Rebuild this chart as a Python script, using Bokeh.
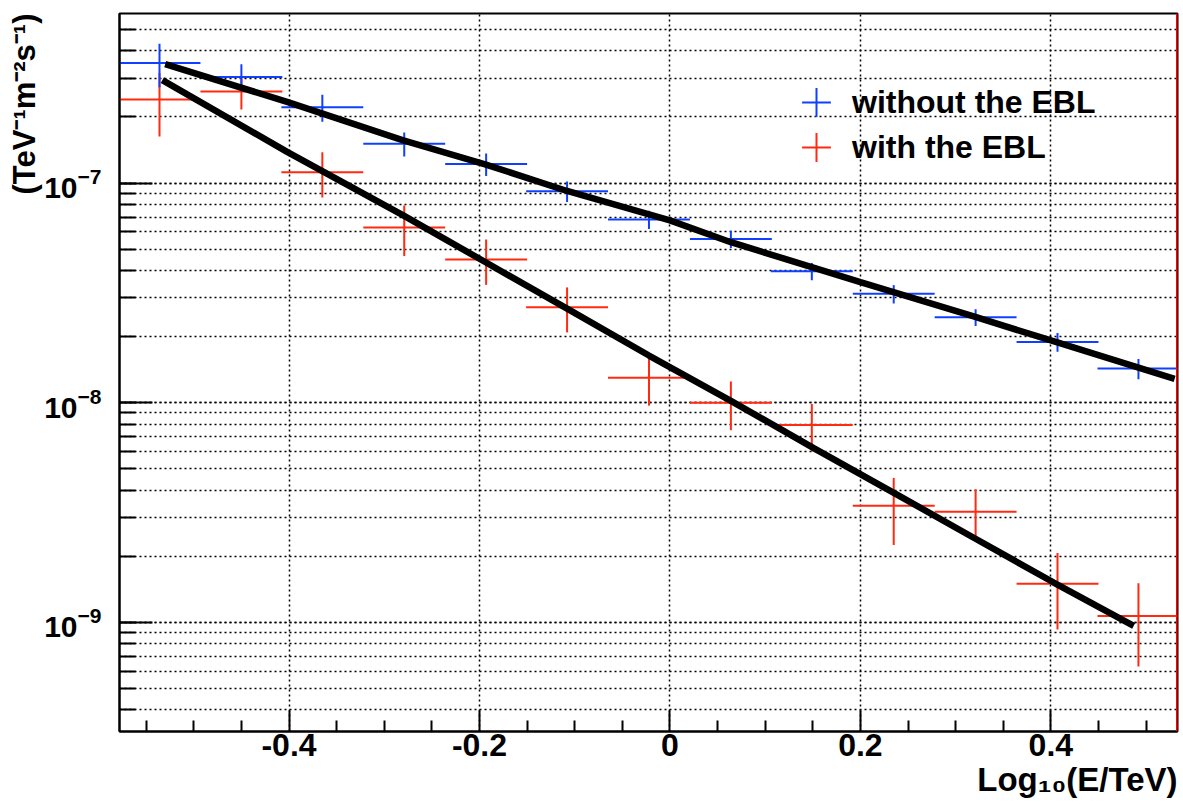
from bokeh.plotting import figure
from bokeh.models import (ColumnDataSource, Range1d, FixedTicker, LogTicker,
                          Legend, LegendItem, Title, Span)
from bokeh.embed import file_html
from bokeh.resources import INLINE

# ---------------- data ----------------
# bin centres in log10(E/TeV) and half bin width
log_e = [-0.536, -0.450, -0.365, -0.279, -0.193, -0.108, -0.022,
         0.064, 0.149, 0.235, 0.321, 0.407, 0.492]
log_e_half = [0.043, 0.043, 0.043, 0.043, 0.043, 0.043, 0.043,
              0.043, 0.043, 0.043, 0.043, 0.043, 0.043]

# "without the EBL" (blue)
flux_no_ebl = [3.52e-7, 3.04e-7, 2.21e-7, 1.51e-7, 1.22e-7, 9.17e-8, 6.83e-8,
               5.56e-8, 3.97e-8, 3.13e-8, 2.45e-8, 1.89e-8, 1.43e-8]
err_no_ebl = [0.79e-7, 0.43e-7, 0.31e-7, 0.19e-7, 0.144e-7, 0.98e-8, 0.65e-8,
              0.50e-8, 0.36e-8, 0.30e-8, 0.215e-8, 0.185e-8, 0.15e-8]

# "with the EBL" (red)
flux_ebl = [2.40e-7, 2.61e-7, 1.12e-7, 6.28e-8, 4.49e-8, 2.72e-8, 1.30e-8,
            1.00e-8, 7.93e-9, 3.40e-9, 3.19e-9, 1.50e-9, 1.07e-9]
err_ebl = [0.77e-7, 0.45e-7, 0.26e-7, 1.63e-8, 1.05e-8, 0.63e-8, 0.33e-8,
           0.25e-8, 1.94e-9, 1.15e-9, 0.85e-9, 0.57e-9, 0.44e-9]

# fitted spectra (black curves), sampled along the drawn lines
fit_no_ebl_x = [-0.530, -0.402, -0.280, -0.194, -0.108, 0.000, 0.064,
                0.200, 0.319, 0.406, 0.530]
fit_no_ebl_y = [3.48e-7, 2.34e-7, 1.565e-7, 1.217e-7, 9.20e-8, 6.76e-8, 5.38e-8,
                3.54e-8, 2.47e-8, 1.886e-8, 1.285e-8]
fit_ebl_x = [-0.533, -0.402, -0.280, -0.194, -0.108, -0.022, 0.064,
             0.151, 0.237, 0.319, 0.403, 0.487]
fit_ebl_y = [2.94e-7, 1.387e-7, 7.12e-8, 4.37e-8, 2.68e-8, 1.64e-8, 1.02e-8,
             6.22e-9, 3.85e-9, 2.43e-9, 1.52e-9, 9.66e-10]

# axes
x_start, x_end = -0.578, 0.533
y_start, y_end = 3.19e-10, 5.91e-7
x_major_ticks = [-0.4, -0.2, 0.0, 0.2, 0.4]
x_tick_labels = ["-0.4", "-0.2", "0", "0.2", "0.4"]
x_minor_ticks = [-0.55, -0.5, -0.45, -0.35, -0.3, -0.25, -0.15, -0.1, -0.05,
                 0.05, 0.1, 0.15, 0.25, 0.3, 0.35, 0.45, 0.5]
x_title = "Log\u2081\u2080(E/TeV)"
y_title = "(TeV\u207b\u00b9m\u207b\u00b2s\u207b\u00b9)"
series_labels = ["without the EBL", "with the EBL"]

BLUE = "#1040ff"
RED = "#ff2a10"
FONT = "Liberation Sans"

# ---------------- figure ----------------
p = figure(width=1183, height=810, output_backend="svg", toolbar_location=None,
           x_range=Range1d(x_start, x_end), y_range=Range1d(y_start, y_end),
           y_axis_type="log",
           min_border_left=119, min_border_right=6, min_border_top=13,
           min_border_bottom=79)
p.background_fill_color = "white"
p.border_fill_color = "white"
p.outline_line_color = "black"
p.outline_line_width = 2


def bars(xc, xh, yc, ye):
    hx0 = [x - h for x, h in zip(xc, xh)]
    hx1 = [x + h for x, h in zip(xc, xh)]
    vy0 = [y - e for y, e in zip(yc, ye)]
    vy1 = [y + e for y, e in zip(yc, ye)]
    return ColumnDataSource(dict(x=xc, y=yc, hx0=hx0, hx1=hx1, vy0=vy0, vy1=vy1))


src_ebl = bars(log_e, log_e_half, flux_ebl, err_ebl)
src_no = bars(log_e, log_e_half, flux_no_ebl, err_no_ebl)

for src, col in ((src_ebl, RED), (src_no, BLUE)):
    p.segment(x0="hx0", y0="y", x1="hx1", y1="y", source=src,
              line_color=col, line_width=2)
    p.segment(x0="x", y0="vy0", x1="x", y1="vy1", source=src,
              line_color=col, line_width=2)

leg_no = p.scatter(x="x", y="y", source=src_no, marker="cross", size=0,
                   line_color=BLUE, line_width=2)
leg_ebl = p.scatter(x="x", y="y", source=src_ebl, marker="cross", size=0,
                    line_color=RED, line_width=2)

p.line(fit_no_ebl_x, fit_no_ebl_y, line_color="black", line_width=6.5)
p.line(fit_ebl_x, fit_ebl_y, line_color="black", line_width=6.5)

p.add_layout(Span(location=x_end, dimension="height", line_color="#ff0000",
                  line_width=3))

# ---------------- axes ----------------
xa = p.xaxis[0]
xa.ticker = FixedTicker(ticks=x_major_ticks, minor_ticks=x_minor_ticks)
xa.major_label_overrides = dict(zip(x_major_ticks, x_tick_labels))
ya = p.yaxis[0]
ya.ticker = LogTicker(num_minor_ticks=10)

for ax in (xa, ya):
    ax.axis_line_color = "black"
    ax.axis_line_width = 2
    ax.major_tick_line_color = "black"
    ax.minor_tick_line_color = "black"
    ax.major_tick_line_width = 2
    ax.minor_tick_line_width = 2
    ax.major_tick_out = 0
    ax.minor_tick_out = 0
    ax.major_label_text_font = FONT
    ax.major_label_text_font_style = "bold"
    ax.major_label_text_color = "black"

xa.major_tick_in = 21
xa.minor_tick_in = 11
xa.major_label_text_font_size = "32px"
xa.major_label_standoff = 2
ya.major_tick_in = 33
ya.minor_tick_in = 16
ya.major_label_text_font_size = "30px"
ya.major_label_standoff = 18

# grids (dotted)
p.xgrid.grid_line_color = "black"
p.xgrid.grid_line_dash = "2 3"
p.xgrid.grid_line_width = 1.5
p.ygrid.grid_line_color = "black"
p.ygrid.grid_line_dash = "2 3"
p.ygrid.grid_line_width = 1.5
p.ygrid.minor_grid_line_color = "black"
p.ygrid.minor_grid_line_dash = "2 3"
p.ygrid.minor_grid_line_width = 1.5

# axis titles
p.add_layout(Title(text=y_title, align="right", text_font=FONT,
                   text_font_size="31px", text_font_style="bold",
                   text_color="black", standoff=0), "left")
p.add_layout(Title(text=x_title, align="right", text_font=FONT,
                   text_font_size="33px", text_font_style="bold",
                   text_color="black", standoff=0), "below")

# legend: one box per entry so the two rows sit close together
legend_style = dict(glyph_width=72, glyph_height=72, label_standoff=0,
                    padding=0, margin=0, border_line_color=None,
                    background_fill_alpha=0, label_text_font=FONT,
                    label_text_font_size="32px", label_text_font_style="bold",
                    label_text_color="black")
p.add_layout(Legend(items=[LegendItem(label=series_labels[0], renderers=[leg_no])],
                    location=(661, 593), **legend_style))
p.add_layout(Legend(items=[LegendItem(label=series_labels[1], renderers=[leg_ebl])],
                    location=(661, 548), **legend_style))

open("out.html", "w").write(file_html(p, INLINE))
